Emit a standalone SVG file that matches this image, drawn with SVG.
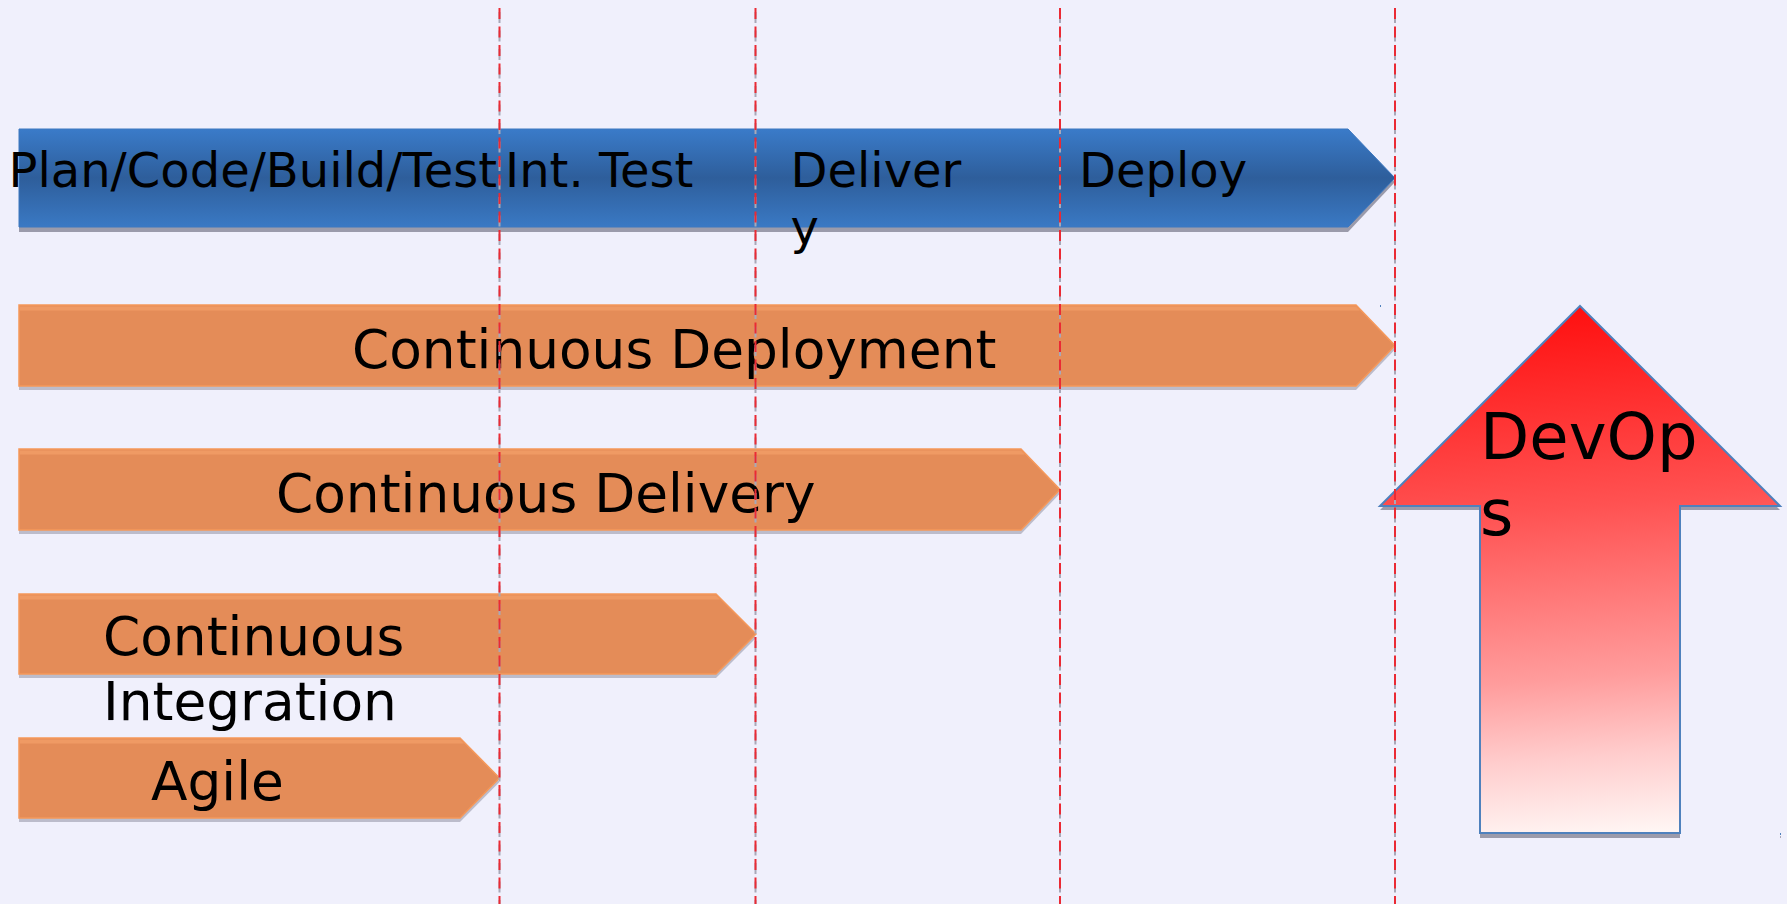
<svg xmlns="http://www.w3.org/2000/svg" width="1787" height="904" viewBox="0 0 1787 904">
  <defs>
    <linearGradient id="blueBand" x1="0" y1="0" x2="0" y2="1">
      <stop offset="0" stop-color="#3a7bc9"/>
      <stop offset="0.5" stop-color="#2e5e9b"/>
      <stop offset="1" stop-color="#3a79c4"/>
    </linearGradient>
    <linearGradient id="redUp" gradientUnits="userSpaceOnUse" x1="1560" y1="306" x2="1600" y2="836">
      <stop offset="0" stop-color="#ff0f0f"/>
      <stop offset="0.38" stop-color="#ff5252"/>
      <stop offset="0.7" stop-color="#ff9c9c"/>
      <stop offset="0.85" stop-color="#ffcdcd"/>
      <stop offset="1" stop-color="#fff6f4"/>
    </linearGradient>
    <style>
      .bg { fill: #f0f0fc; }
      .lbl { font-family: "DejaVu Sans", "Liberation Sans", sans-serif; fill: #000; }
      .stage { font-size: 48px; }
      .phase { font-size: 53.33px; }
      .big { font-size: 64px; }
      .blueShape { fill: url(#blueBand); stroke: #3d78c0; stroke-width: 1; }
      .orangeShape { fill: #e48c58; stroke: #f5985a; stroke-width: 1.5; }
      .hilite { fill: #ef9a64; }
      .shadowA { fill: #9b9bab; }
      .shadowB { fill: #bcbccb; }
      .arrowUp { fill: url(#redUp); stroke: #4f81bd; stroke-width: 2; }
      .guide { stroke: #ea2a34; stroke-width: 2; stroke-dasharray: 11 7.5; fill: none; }
      .guideShadow { stroke: #a8a8b8; stroke-width: 2; stroke-dasharray: 11 7.5; fill: none; }
    </style>
  </defs>

  <rect class="bg" x="0" y="0" width="1787" height="904"/>

  <!-- pipeline stages bar -->
  <g id="stages">
    <polygon class="shadowA" points="19,133 1348,133 1395,182 1348,232 19,232"/>
    <polygon class="blueShape" points="19,129 1348,129 1395,178 1348,227 19,227"/>
    <text class="lbl stage" x="8.5" y="187">Plan/Code/Build/Test</text>
    <text class="lbl stage" x="505" y="187">Int. Test</text>
    <text class="lbl stage" x="790.5" y="187">Deliver<tspan x="790.5" y="244">y</tspan></text>
    <text class="lbl stage" x="1079" y="187">Deploy</text>
  </g>

  <!-- continuous deployment -->
  <g id="continuous-deployment">
    <polygon class="shadowB" points="19,309 1356,309 1395,349.5 1356,390 19,390"/>
    <polygon class="orangeShape" points="19,305 1356,305 1395,345.5 1356,386 19,386"/>
    <polygon class="hilite" points="20,306.5 1356,306.5 1360,310.5 20,310.5"/>
    <text class="lbl phase" x="352" y="368">Continuous Deployment</text>
  </g>

  <!-- continuous delivery -->
  <g id="continuous-delivery">
    <polygon class="shadowB" points="19,453 1021,453 1060,493.5 1021,534 19,534"/>
    <polygon class="orangeShape" points="19,449 1021,449 1060,489.5 1021,530 19,530"/>
    <polygon class="hilite" points="20,450.5 1021,450.5 1025,454.5 20,454.5"/>
    <text class="lbl phase" x="276" y="512">Continuous Delivery</text>
  </g>

  <!-- continuous integration -->
  <g id="continuous-integration">
    <polygon class="shadowB" points="19,598 716,598 756,638 716,678 19,678"/>
    <polygon class="orangeShape" points="19,594 716,594 756,634 716,674 19,674"/>
    <polygon class="hilite" points="20,595.5 716,595.5 720,599.5 20,599.5"/>
    <text class="lbl phase" x="103" y="655">Continuous<tspan x="103" y="720">Integration</tspan></text>
  </g>

  <!-- agile -->
  <g id="agile">
    <polygon class="shadowB" points="19,742 460,742 499.5,782 460,822 19,822"/>
    <polygon class="orangeShape" points="19,738 460,738 499.5,778 460,818 19,818"/>
    <polygon class="hilite" points="20,739.5 460,739.5 464,743.5 20,743.5"/>
    <text class="lbl phase" x="151" y="800">Agile</text>
  </g>

  <!-- devops up arrow -->
  <g id="devops">
    <polygon class="shadowA" points="1580,310 1780,510 1680,510 1680,838 1480,838 1480,510 1380,510"/>
    <polygon class="arrowUp" points="1580,306 1780,506 1680,506 1680,833 1480,833 1480,506 1380,506"/>
    <rect x="1380" y="305" width="1" height="2" fill="#4f81bd"/>
    <rect x="1780" y="833" width="1" height="2" fill="#4f81bd"/>
    <rect x="1780" y="836" width="1" height="2" fill="#a8a8b8"/>
    <text class="lbl big" x="1480" y="459">DevOp<tspan x="1480" y="535">s</tspan></text>
  </g>

  <!-- stage boundary guides -->
  <g id="connectors">
    <g transform="translate(0,4)">
      <line class="guideShadow" x1="499.5" y1="8" x2="499.5" y2="904"/>
      <line class="guideShadow" x1="755.5" y1="8" x2="755.5" y2="904"/>
      <line class="guideShadow" x1="1060" y1="8" x2="1060" y2="904"/>
      <line class="guideShadow" x1="1395" y1="8" x2="1395" y2="904"/>
    </g>
    <line class="guide" x1="499.5" y1="8" x2="499.5" y2="904"/>
    <line class="guide" x1="755.5" y1="8" x2="755.5" y2="904"/>
    <line class="guide" x1="1060" y1="8" x2="1060" y2="904"/>
    <line class="guide" x1="1395" y1="8" x2="1395" y2="904"/>
  </g>
</svg>
